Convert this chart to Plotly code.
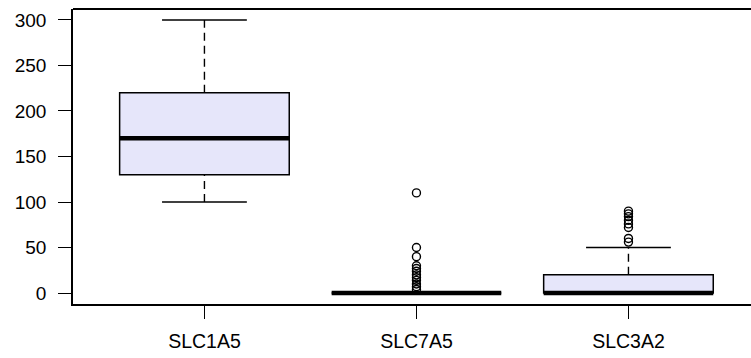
import plotly.graph_objects as go

categories = ["SLC1A5", "SLC7A5", "SLC3A2"]
lower_whisker = [100, 0, 0]
q1 = [130, 0, 0]
median = [170, 0, 0]
q3 = [220, 0, 20]
upper_whisker = [300, 0, 50]
outliers = [
    [],
    [110, 50, 40, 30, 27, 24, 20, 17, 14, 10, 7, 4],
    [90, 87, 84, 80, 76, 72, 60, 56],
]
y_ticks = [0, 50, 100, 150, 200, 250, 300]

BOX_W = 0.8
CAP_HALF = 0.2
FILL = "#E6E6FA"
FONT = "Liberation Sans, Arial, Helvetica, sans-serif"

fig = go.Figure()
xs = list(range(1, len(categories) + 1))

for i, x in enumerate(xs):
    # dashed whiskers
    if upper_whisker[i] > q3[i]:
        fig.add_trace(go.Scatter(x=[x, x], y=[q3[i], upper_whisker[i]], mode="lines",
                                 line=dict(color="black", width=1.4, dash="8px,5px"),
                                 hoverinfo="skip", showlegend=False))
        fig.add_trace(go.Scatter(x=[x - CAP_HALF, x + CAP_HALF], y=[upper_whisker[i]] * 2, mode="lines",
                                 line=dict(color="black", width=1.4), hoverinfo="skip", showlegend=False))
    if lower_whisker[i] < q1[i]:
        fig.add_trace(go.Scatter(x=[x, x], y=[lower_whisker[i], q1[i]], mode="lines",
                                 line=dict(color="black", width=1.4, dash="8px,5px"),
                                 hoverinfo="skip", showlegend=False))
        fig.add_trace(go.Scatter(x=[x - CAP_HALF, x + CAP_HALF], y=[lower_whisker[i]] * 2, mode="lines",
                                 line=dict(color="black", width=1.4), hoverinfo="skip", showlegend=False))
    # box
    fig.add_trace(go.Box(x=[x], q1=[q1[i]], median=[median[i]], q3=[q3[i]],
                         lowerfence=[q1[i]], upperfence=[q3[i]], width=BOX_W,
                         whiskerwidth=0, fillcolor=FILL, line=dict(color="black", width=1.5),
                         boxpoints=False, showlegend=False, hoverinfo="skip"))
    # thick median
    fig.add_trace(go.Scatter(x=[x - BOX_W / 2, x + BOX_W / 2], y=[median[i]] * 2, mode="lines",
                             line=dict(color="black", width=4.5), hoverinfo="skip", showlegend=False))
    # outliers
    if outliers[i]:
        fig.add_trace(go.Scatter(x=[x] * len(outliers[i]), y=outliers[i], mode="markers",
                                 marker=dict(symbol="circle-open", size=8, color="black",
                                             line=dict(width=1.4, color="black")),
                                 hoverinfo="skip", showlegend=False))

fig.update_layout(
    width=751, height=358,
    margin=dict(l=73, r=0, t=9, b=54),
    paper_bgcolor="white", plot_bgcolor="white",
    font=dict(family=FONT, color="black", size=19),
    xaxis=dict(range=[0.38, 3.578], tickvals=xs, ticktext=categories,
               showgrid=False, zeroline=False, showline=True, linecolor="black", linewidth=1.5,
               ticks="outside", ticklen=13, tickwidth=1.3, tickcolor="black",
               tickfont=dict(size=19.5), ticklabelstandoff=6),
    yaxis=dict(range=[-12, 312], tickvals=y_ticks,
               showgrid=False, zeroline=False, showline=True, linecolor="black", linewidth=1.5,
               ticks="outside", ticklen=13, tickwidth=1.3, tickcolor="black",
               tickfont=dict(size=19), ticklabelstandoff=8),
    shapes=[dict(type="line", xref="paper", yref="paper", x0=0, x1=1, y0=1, y1=1,
                 line=dict(color="black", width=2))],
)

fig.write_html("out.html", config={"displayModeBar": False},
               post_script="document.body.style.margin='0';document.body.style.overflow='hidden';")
